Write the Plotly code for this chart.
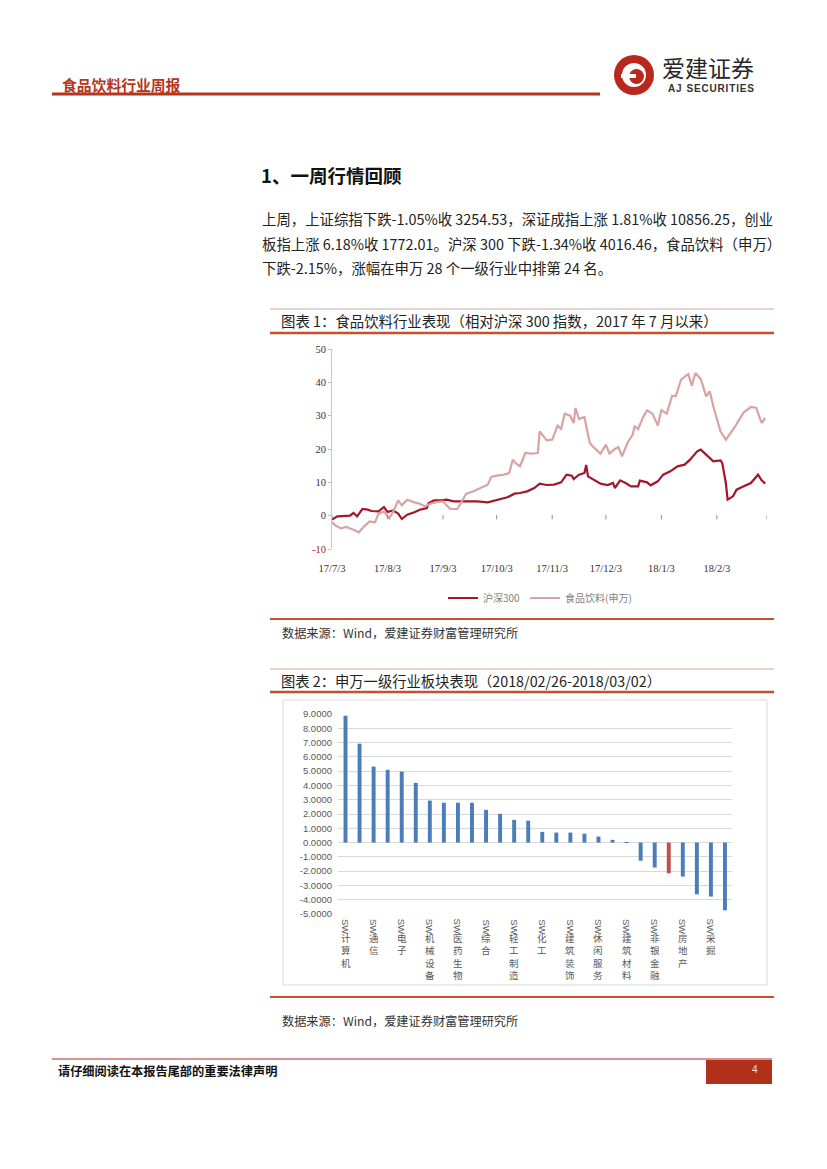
import plotly.graph_objects as go

W, H = 827, 1169


def X(px):
    return px / W


def Y(py):
    return 1 - py / H


# ---------------- Chart 1 data (cumulative %, since 2017-07-03) ----------------
hs300_dates = [
    "2017-07-03", "2017-07-06", "2017-07-13", "2017-07-15", "2017-07-17", "2017-07-20",
    "2017-07-23", "2017-07-25", "2017-07-29", "2017-08-01", "2017-08-03", "2017-08-06",
    "2017-08-09", "2017-08-11", "2017-08-14", "2017-08-18", "2017-08-21", "2017-08-25",
    "2017-08-26", "2017-08-29", "2017-09-02", "2017-09-05", "2017-09-09", "2017-09-13",
    "2017-09-16", "2017-09-22", "2017-09-28", "2017-10-01", "2017-10-05", "2017-10-09",
    "2017-10-13", "2017-10-16", "2017-10-20", "2017-10-24", "2017-10-27", "2017-10-31",
    "2017-11-04", "2017-11-08", "2017-11-11", "2017-11-14", "2017-11-15", "2017-11-18",
    "2017-11-21", "2017-11-22", "2017-11-23", "2017-11-26", "2017-11-30", "2017-12-04",
    "2017-12-07", "2017-12-08", "2017-12-11", "2017-12-14", "2017-12-17", "2017-12-21",
    "2017-12-22", "2017-12-26", "2017-12-28", "2018-01-01", "2018-01-04", "2018-01-08",
    "2018-01-12", "2018-01-16", "2018-01-19", "2018-01-23", "2018-01-25", "2018-01-28",
    "2018-01-31", "2018-02-01", "2018-02-05", "2018-02-06", "2018-02-08", "2018-02-09",
    "2018-02-12", "2018-02-14", "2018-02-18", "2018-02-22", "2018-02-26", "2018-02-28",
    "2018-03-02",
]
hs300_values = [
    -1.2, -0.2, 0.0, 0.8, -0.2, 2.0,
    1.8, 1.4, 1.3, 2.6, 1.1, 1.6,
    0.6, -1.0, 0.3, 1.0, 1.8, 2.3,
    3.8, 4.6, 4.6, 4.8, 4.3, 4.3,
    4.5, 4.3, 4.0, 4.4, 5.0, 5.5,
    6.6, 6.8, 7.3, 8.3, 9.6, 9.2,
    9.3, 10.0, 12.3, 12.0, 11.0, 12.3,
    12.8, 15.2, 11.8, 10.8, 9.6, 9.2,
    9.8, 8.3, 10.6, 9.8, 8.8, 8.8,
    10.5, 10.0, 9.1, 10.3, 12.3, 13.3,
    14.8, 15.3, 16.8, 19.3, 19.8, 18.3,
    16.6, 16.3, 16.6, 15.8, 9.8, 4.8,
    5.8, 7.8, 8.8, 9.8, 12.3, 10.6,
    9.6,
]

food_dates = [
    "2017-07-03", "2017-07-05", "2017-07-08", "2017-07-11", "2017-07-15", "2017-07-18",
    "2017-07-21", "2017-07-24", "2017-07-27", "2017-07-29", "2017-08-01", "2017-08-04",
    "2017-08-06", "2017-08-09", "2017-08-11", "2017-08-14", "2017-08-18", "2017-08-21",
    "2017-08-24", "2017-08-27", "2017-08-31", "2017-09-03", "2017-09-07", "2017-09-11",
    "2017-09-13", "2017-09-16", "2017-09-20", "2017-09-24", "2017-09-28", "2017-09-30",
    "2017-10-03", "2017-10-07", "2017-10-10", "2017-10-12", "2017-10-14", "2017-10-16",
    "2017-10-19", "2017-10-22", "2017-10-26", "2017-10-27", "2017-10-31", "2017-11-03",
    "2017-11-06", "2017-11-08", "2017-11-10", "2017-11-13", "2017-11-15", "2017-11-16",
    "2017-11-18", "2017-11-21", "2017-11-22", "2017-11-24", "2017-11-26", "2017-11-30",
    "2017-12-03", "2017-12-05", "2017-12-08", "2017-12-10", "2017-12-12", "2017-12-15",
    "2017-12-18", "2017-12-19", "2017-12-21", "2017-12-24", "2017-12-26", "2017-12-29",
    "2018-01-01", "2018-01-03", "2018-01-06", "2018-01-09", "2018-01-11", "2018-01-14",
    "2018-01-18", "2018-01-20", "2018-01-22", "2018-01-25", "2018-01-28", "2018-01-30",
    "2018-02-01", "2018-02-05", "2018-02-08", "2018-02-13", "2018-02-18", "2018-02-22",
    "2018-02-25", "2018-02-28", "2018-03-02",
]
food_values = [
    -2.0, -3.0, -3.8, -3.4, -4.2, -5.0,
    -3.2, -1.7, -2.0, 0.6, 1.2, -0.8,
    1.0, 4.6, 3.1, 4.8, 4.0, 3.6,
    2.8, 3.6, 4.1, 4.3, 2.0, 2.0,
    3.8, 6.6, 7.3, 8.3, 9.3, 11.6,
    12.0, 12.3, 12.8, 16.8, 15.6, 14.8,
    18.8, 18.6, 18.8, 25.3, 22.6, 22.8,
    27.0, 26.0, 30.6, 30.0, 27.8, 32.3,
    29.0, 29.6, 26.8, 21.8, 20.6, 18.6,
    21.3, 18.6, 20.0, 20.6, 17.8, 21.8,
    24.3, 26.8, 26.0, 29.8, 31.6, 30.6,
    27.0, 31.6, 30.6, 36.0, 35.8, 40.8,
    42.5, 39.0, 42.8, 41.0, 35.8, 37.3,
    32.8, 25.3, 22.8, 26.6, 31.0, 32.6,
    32.3, 27.8, 29.3,
]

x1_tick_vals = ["2017-07-03", "2017-08-03", "2017-09-03", "2017-10-03",
                "2017-11-03", "2017-12-03", "2018-01-03", "2018-02-03"]
x1_tick_text = ["17/7/3", "17/8/3", "17/9/3", "17/10/3",
                "17/11/3", "17/12/3", "18/1/3", "18/2/3"]
x1_mark_dates = x1_tick_vals + ["2018-03-03"]
y1_tick_vals = [-10, 0, 10, 20, 30, 40, 50]

# ---------------- Chart 2 data (weekly change %, 2018/02/26-2018/03/02) ----------------
industry_names = [
    "SW计算机", "SW传媒", "SW通信", "SW国防军工", "SW电子", "SW电气设备", "SW机械设备",
    "SW汽车", "SW医药生物", "SW农林牧渔", "SW综合", "SW家用电器", "SW轻工制造",
    "SW公用事业", "SW化工", "SW交通运输", "SW建筑装饰", "SW商业贸易", "SW休闲服务",
    "SW有色金属", "SW建筑材料", "SW钢铁", "SW非银金融", "SW食品饮料", "SW房地产",
    "SW银行", "SW采掘", "SW纺织服装",
]
industry_values = [
    8.88, 6.92, 5.32, 5.09, 4.97, 4.18, 2.94,
    2.79, 2.79, 2.79, 2.29, 2.01, 1.59,
    1.53, 0.75, 0.70, 0.70, 0.62, 0.42,
    0.19, -0.03, -1.27, -1.75, -2.15, -2.38,
    -3.62, -3.78, -4.74,
]
highlight_name = "SW食品饮料"
y2_tick_vals = [-5, -4, -3, -2, -1, 0, 1, 2, 3, 4, 5, 6, 7, 8, 9]

# ---------------- styles ----------------
RED = "#B5351D"
CJK = "Noto Sans CJK SC"
DARK = "#A3172B"
PINK = "#D9A3A3"
BLUE = "#4A7EBB"
BAR_RED = "#C0504D"

fig = go.Figure()

fig.add_trace(go.Scatter(x=hs300_dates, y=hs300_values, mode="lines", name="沪深300",
                         line=dict(color=DARK, width=2.2), xaxis="x", yaxis="y"))
fig.add_trace(go.Scatter(x=food_dates, y=food_values, mode="lines", name="食品饮料(申万)",
                         line=dict(color=PINK, width=2.2), xaxis="x", yaxis="y"))

bar_colors = [BAR_RED if n == highlight_name else BLUE for n in industry_names]
fig.add_trace(go.Bar(x=industry_names, y=industry_values, marker=dict(color=bar_colors, line=dict(width=0)),
                     xaxis="x2", yaxis="y2", showlegend=False))

x2_label_names = industry_names[0::2]

y1_tick_text = [("<span style='color:#9E1B32'>%d</span>" % v) if v < 0 else str(v) for v in y1_tick_vals]
y2_tick_text = ["%.4f" % v for v in y2_tick_vals]

fig.update_layout(
    width=W, height=H,
    margin=dict(l=0, r=0, t=0, b=0, pad=0, autoexpand=False),
    paper_bgcolor="white", plot_bgcolor="rgba(0,0,0,0)",
    bargap=0.72,
    showlegend=True,
    legend=dict(orientation="h", x=X(540), xanchor="center", y=Y(598), yanchor="middle",
                font=dict(family=CJK, size=10, color="#7f7f7f"), bgcolor="rgba(0,0,0,0)",
                itemwidth=30, tracegroupgap=0),
    xaxis=dict(domain=[X(332), X(767)], range=["2017-07-03", "2018-03-03"], type="date",
               anchor="y", showgrid=False, zeroline=False, showline=False, automargin=False,
               tickvals=x1_tick_vals, ticktext=x1_tick_text,
               ticks="outside", ticklen=9, tickcolor="rgba(0,0,0,0)",
               tickfont=dict(family="Liberation Serif", size=10.5, color="#333333")),
    yaxis=dict(domain=[Y(549), Y(349)], range=[-10, 50], anchor="x", automargin=False,
               showgrid=False, zeroline=False, showline=True, linecolor="#c8c8c8", linewidth=1,
               tickvals=y1_tick_vals, ticktext=y1_tick_text,
               ticks="outside", ticklen=3, tickcolor="#bdbdbd",
               tickfont=dict(family="Liberation Serif", size=10.5, color="#333333")),
    xaxis2=dict(domain=[X(338), X(732)], anchor="y2", type="category", automargin=False,
                categoryorder="array", categoryarray=industry_names,
                showgrid=False, zeroline=False, showline=False, showticklabels=False, ticks=""),
    yaxis2=dict(domain=[Y(914), Y(714)], range=[-5, 9], anchor="x2", automargin=False,
                showgrid=True, gridcolor="#d9d9d9", gridwidth=1, zeroline=False, showline=False,
                tickvals=y2_tick_vals, ticktext=y2_tick_text, ticks="", ticklabelstandoff=5,
                tickfont=dict(family="Liberation Sans", size=9.5, color="#595959")),
)

shapes = []


def hline(x0, x1, y, color, width):
    shapes.append(dict(type="line", xref="paper", yref="paper", x0=X(x0), x1=X(x1),
                       y0=Y(y), y1=Y(y), line=dict(color=color, width=width)))


# header
hline(52, 600, 94, RED, 3)
# logo
shapes.append(dict(type="circle", xref="paper", yref="paper", x0=X(614), x1=X(654), y0=Y(95), y1=Y(55),
                   fillcolor="#B8281C", line=dict(width=0)))
shapes.append(dict(type="circle", xref="paper", yref="paper", x0=X(622), x1=X(646), y0=Y(87), y1=Y(63),
                   fillcolor="white", line=dict(width=0)))
shapes.append(dict(type="circle", xref="paper", yref="paper", x0=X(629), x1=X(644), y0=Y(84), y1=Y(69),
                   fillcolor="#B8281C", line=dict(width=0)))
shapes.append(dict(type="rect", xref="paper", yref="paper", x0=X(621), x1=X(636), y0=Y(78), y1=Y(74),
                   fillcolor="white", line=dict(width=0)))

# chart 1 frame lines
hline(270, 774, 309, "#CDA9A0", 1)
hline(270, 774, 333, "#C4502C", 2.5)
hline(270, 774, 619, "#C4502C", 2)
# chart 2 frame lines
hline(270, 774, 669, "#CDA9A0", 1)
hline(270, 774, 692, "#C4502C", 2.5)
hline(270, 774, 997, "#C4502C", 2)
shapes.append(dict(type="rect", xref="paper", yref="paper", x0=X(283), x1=X(767), y0=Y(985), y1=Y(700),
                   line=dict(color="#d9d9d9", width=1), fillcolor="rgba(0,0,0,0)"))

# chart 1 x tick marks on the zero line
for d in x1_mark_dates:
    shapes.append(dict(type="line", xref="x", yref="y", x0=d, x1=d, y0=-1.1, y1=0.2,
                       line=dict(color="#8c8c8c", width=1)))

# footer
hline(52, 772, 1059, "#B22222", 1.2)
shapes.append(dict(type="rect", xref="paper", yref="paper", x0=X(706), x1=X(772), y0=Y(1084), y1=Y(1060),
                   fillcolor="#B0301A", line=dict(width=0)))

fig.update_layout(shapes=shapes)

ann = []


def text(x, y, s, size, color="#222222", family=CJK, anchor="left"):
    ann.append(dict(xref="paper", yref="paper", x=X(x), y=Y(y), text=s, showarrow=False,
                    xanchor=anchor, yanchor="middle", align="left",
                    font=dict(family=family, size=size, color=color)))


text(60, 84, "<b>食品饮料行业周报</b>", 14.8, RED)
text(660, 67, "爱建证券", 23, "#262626")
text(666, 88, "<b>A\u200aJ\u2009 S\u200aE\u200aC\u200aU\u200aR\u200aI\u200aT\u200aI\u200aE\u200aS</b>", 10,
     "#333333", "Liberation Sans")

text(259, 175, "<b>1、一周行情回顾</b>", 18.5, "#111111")
text(260, 218, "上周，上证综指下跌-1.05%收 3254.53，深证成指上涨 1.81%收 10856.25，创业", 14.4)
text(260, 243, "板指上涨 6.18%收 1772.01。沪深 300 下跌-1.34%收 4016.46，食品饮料（申万）", 14.4)
text(260, 268, "下跌-2.15%，涨幅在申万 28 个一级行业中排第 24 名。", 14.4)

text(279, 320, "图表 1：食品饮料行业表现（相对沪深 300 指数，2017 年 7 月以来）", 14.4)
text(280, 633, "数据来源：Wind，爱建证券财富管理研究所", 12.2, "#333333")
text(279, 680, "图表 2：申万一级行业板块表现（2018/02/26-2018/03/02）", 14.3)
text(280, 1021, "数据来源：Wind，爱建证券财富管理研究所", 12.2, "#333333")

text(56, 1071, "<b>请仔细阅读在本报告尾部的重要法律声明</b>", 12.2, "#111111")
text(755, 1069, "4", 10, "#F3E6C8", "Liberation Sans", "center")

# chart 2 category labels: rotated "SW" and stacked Chinese characters
for name in x2_label_names:
    ann.append(dict(xref="x2", yref="paper", x=name, y=Y(917), text="SW", textangle=90,
                    showarrow=False, xanchor="center", yanchor="top",
                    font=dict(family="Liberation Sans", size=9.5, color="#595959")))
    ann.append(dict(xref="x2", yref="paper", x=name, y=Y(929), text="<br>".join(list(name[2:])),
                    showarrow=False, xanchor="center", yanchor="top", align="center",
                    font=dict(family=CJK, size=9.5, color="#595959")))

fig.update_layout(annotations=ann)

fig.write_html("out.html", config={"displayModeBar": False},
               post_script="document.body.style.margin='0';document.body.style.padding='0';")
